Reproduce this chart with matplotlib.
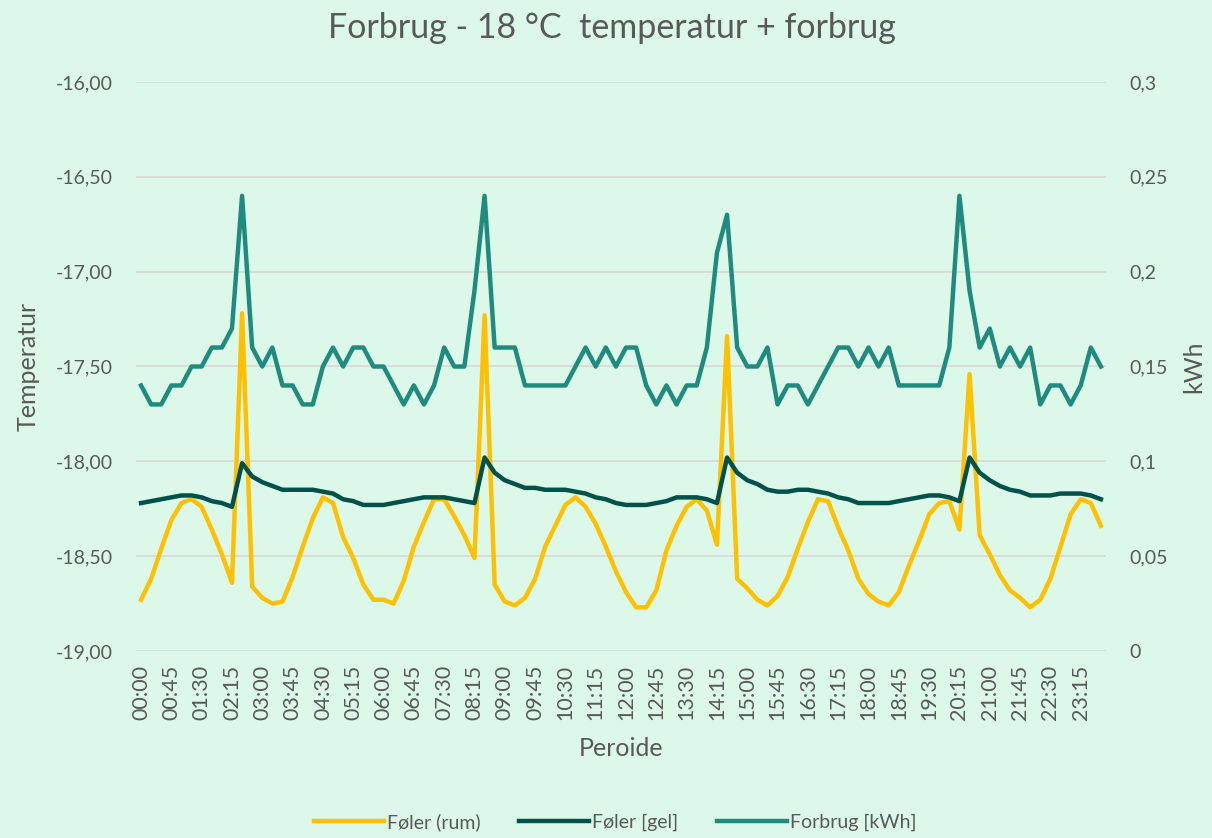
import matplotlib
matplotlib.use('Agg')
import matplotlib.pyplot as plt
from matplotlib.ticker import FuncFormatter

plt.rcParams['font.family'] = ['Lato', 'DejaVu Sans']

# Periods (every quarter of an hour)
perioder = ['%02d:%02d' % (h, m) for h in range(24) for m in (0, 15, 30, 45)]

# Føler (rum) - room temperature
foler_rum = [
    -18.73, -18.62, -18.46, -18.31, -18.22, -18.20, -18.24, -18.36, -18.49, -18.64,
    -17.22, -18.66, -18.72, -18.75, -18.74, -18.61, -18.45, -18.30, -18.19, -18.22,
    -18.40, -18.51, -18.65, -18.73, -18.73, -18.75, -18.63, -18.45, -18.32, -18.20,
    -18.20, -18.29, -18.39, -18.51, -17.23, -18.65, -18.74, -18.76, -18.72, -18.62,
    -18.45, -18.34, -18.23, -18.19, -18.24, -18.33, -18.45, -18.58, -18.69, -18.77,
    -18.77, -18.68, -18.47, -18.34, -18.24, -18.20, -18.26, -18.44, -17.34, -18.62,
    -18.67, -18.73, -18.76, -18.71, -18.61, -18.46, -18.32, -18.20, -18.21, -18.35,
    -18.47, -18.62, -18.70, -18.74, -18.76, -18.69, -18.55, -18.42, -18.28, -18.22,
    -18.21, -18.36, -17.54, -18.39, -18.49, -18.60, -18.68, -18.72, -18.77, -18.73,
    -18.62, -18.45, -18.28, -18.20, -18.22, -18.34]

# Føler [gel]
foler_gel = [
    -18.22, -18.21, -18.20, -18.19, -18.18, -18.18, -18.19, -18.21, -18.22, -18.24,
    -18.01, -18.08, -18.11, -18.13, -18.15, -18.15, -18.15, -18.15, -18.16, -18.17,
    -18.20, -18.21, -18.23, -18.23, -18.23, -18.22, -18.21, -18.20, -18.19, -18.19,
    -18.19, -18.20, -18.21, -18.22, -17.98, -18.06, -18.10, -18.12, -18.14, -18.14,
    -18.15, -18.15, -18.15, -18.16, -18.17, -18.19, -18.20, -18.22, -18.23, -18.23,
    -18.23, -18.22, -18.21, -18.19, -18.19, -18.19, -18.20, -18.22, -17.98, -18.06,
    -18.10, -18.12, -18.15, -18.16, -18.16, -18.15, -18.15, -18.16, -18.17, -18.19,
    -18.20, -18.22, -18.22, -18.22, -18.22, -18.21, -18.20, -18.19, -18.18, -18.18,
    -18.19, -18.21, -17.98, -18.06, -18.10, -18.13, -18.15, -18.16, -18.18, -18.18,
    -18.18, -18.17, -18.17, -18.17, -18.18, -18.20]

# Forbrug [kWh]
forbrug = [
    0.14, 0.13, 0.13, 0.14, 0.14, 0.15, 0.15, 0.16, 0.16, 0.17,
    0.24, 0.16, 0.15, 0.16, 0.14, 0.14, 0.13, 0.13, 0.15, 0.16,
    0.15, 0.16, 0.16, 0.15, 0.15, 0.14, 0.13, 0.14, 0.13, 0.14,
    0.16, 0.15, 0.15, 0.19, 0.24, 0.16, 0.16, 0.16, 0.14, 0.14,
    0.14, 0.14, 0.14, 0.15, 0.16, 0.15, 0.16, 0.15, 0.16, 0.16,
    0.14, 0.13, 0.14, 0.13, 0.14, 0.14, 0.16, 0.21, 0.23, 0.16,
    0.15, 0.15, 0.16, 0.13, 0.14, 0.14, 0.13, 0.14, 0.15, 0.16,
    0.16, 0.15, 0.16, 0.15, 0.16, 0.14, 0.14, 0.14, 0.14, 0.14,
    0.16, 0.24, 0.19, 0.16, 0.17, 0.15, 0.16, 0.15, 0.16, 0.13,
    0.14, 0.14, 0.13, 0.14, 0.16, 0.15]

bg = '#dbf8e9'
txt = '#595959'
grid_col = '#d9d9d9'

fig = plt.figure(figsize=(12.12, 8.38), dpi=100, facecolor=bg)
ax = fig.add_axes([0.1122, 0.2232, 0.8003, 0.6789])
ax.set_facecolor(bg)
x = list(range(len(perioder)))

l1, = ax.plot(x, foler_rum, color='#ffc000', lw=3.2, label='Føler (rum)', solid_joinstyle='round')
l2, = ax.plot(x, foler_gel, color='#00514a', lw=3.2, label='Føler [gel]', solid_joinstyle='round')
ax.set_ylim(-19, -16)
ax.set_yticks([-19, -18.5, -18, -17.5, -17, -16.5, -16])
ax.yaxis.set_major_formatter(FuncFormatter(lambda v, p: ('%.2f' % v).replace('.', ',')))
ax.set_xlim(-0.5, len(x) - 0.5)
ax.set_xticks(x[::3])
ax.set_xticklabels(perioder[::3], rotation=90)
ax.grid(axis='y', color=grid_col, lw=1.3)
ax.set_axisbelow(True)

ax2 = ax.twinx()
l3, = ax2.plot(x, forbrug, color='#1f8b7f', lw=3.2, label='Forbrug [kWh]', solid_joinstyle='round')
ax2.set_ylim(0, 0.3)
ax2.set_yticks([0, 0.05, 0.1, 0.15, 0.2, 0.25, 0.3])
ax2.set_yticklabels(['0', '0,05', '0,1', '0,15', '0,2', '0,25', '0,3'])

for a in (ax, ax2):
    for s in a.spines.values():
        s.set_visible(False)
    a.tick_params(length=0, colors=txt, labelsize=14)
ax.tick_params(axis='y', pad=16.5)
ax2.tick_params(axis='y', pad=17)
ax.tick_params(axis='x', pad=10, labelsize=15.5)

ax.set_ylabel('Temperatur', fontsize=18, color=txt, labelpad=12)
ax2.set_ylabel('kWh', fontsize=18, color=txt, labelpad=10)
ax.set_xlabel('Peroide', fontsize=18, color=txt, labelpad=12)

fig.text(0.505, 0.966, 'Forbrug - 18 °C  temperatur + forbrug', ha='center', va='center',
         fontsize=24.5, color=txt)

fig.legend(handles=[l1, l2, l3], loc='center', bbox_to_anchor=(615 / 1212, 1 - 822 / 838),
           ncol=3, frameon=False, fontsize=14, handlelength=3.6, handletextpad=0.15,
           columnspacing=2.0, labelcolor=txt)

fig.savefig('out.png', dpi=100, facecolor=bg)
